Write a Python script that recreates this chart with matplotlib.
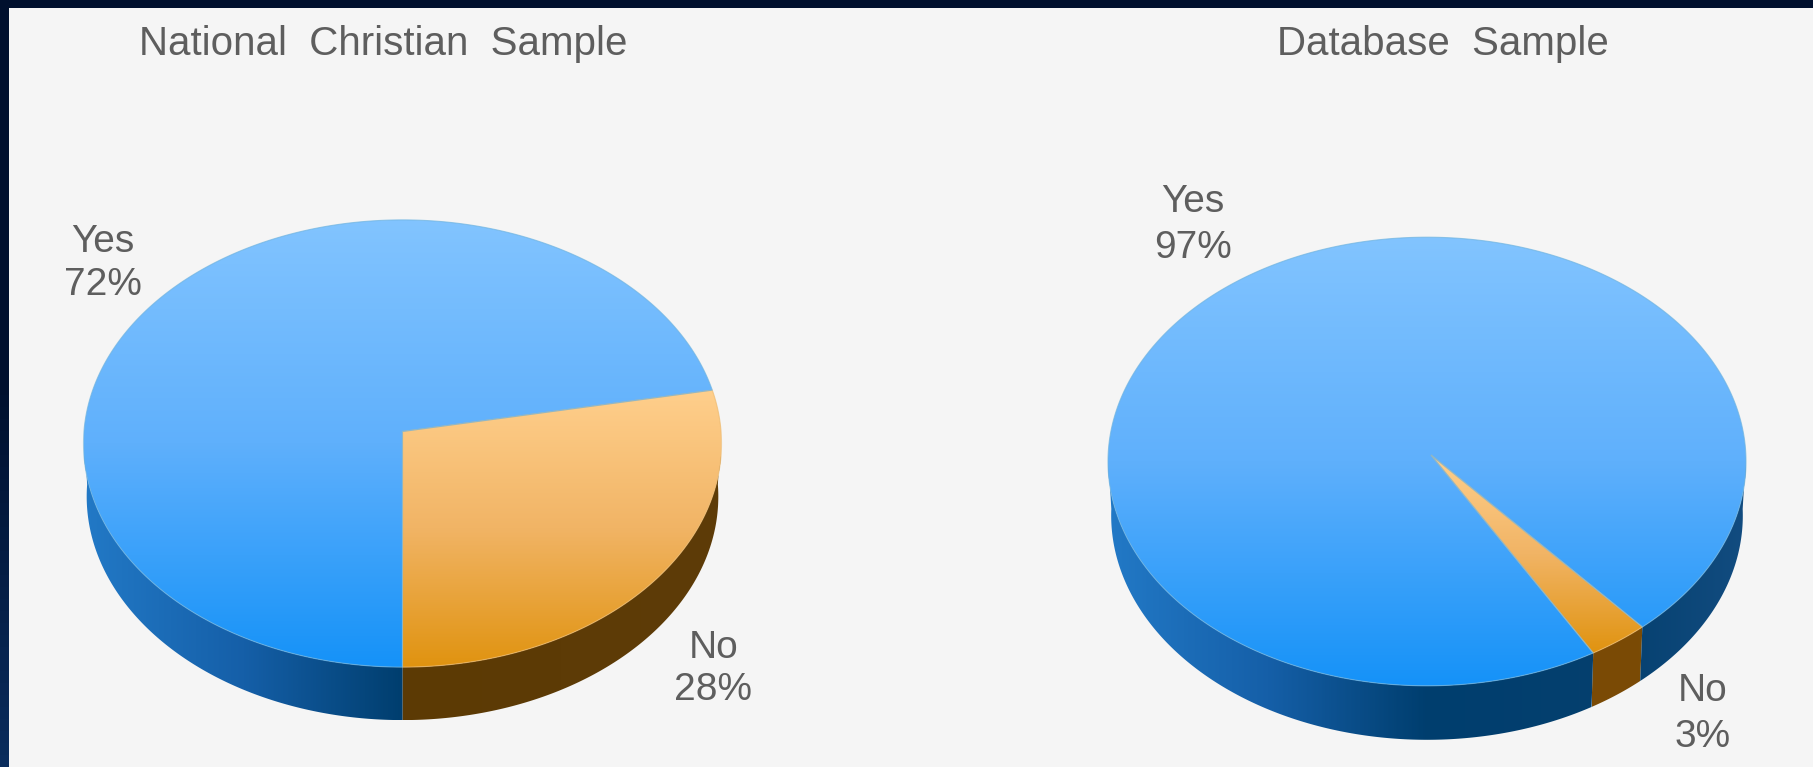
import numpy as np
import matplotlib
matplotlib.use("Agg")
import matplotlib.pyplot as plt
from matplotlib.colors import LinearSegmentedColormap
from matplotlib.patches import Polygon, Rectangle

plt.rcParams["font.family"] = ["Liberation Sans", "DejaVu Sans"]

# Survey results
titles = ["National  Christian  Sample", "Database  Sample"]
categories = ["Yes", "No"]
national_values = [72, 28]
database_values = [97, 3]

W, H = 1813, 767
INK = "#5e5e5e"

TOP_CMAPS = {
    "Yes": LinearSegmentedColormap.from_list("t_yes", ["#82c4ff", "#5fb0fc", "#1592f8"]),
    "No": LinearSegmentedColormap.from_list("t_no", ["#ffcf8c", "#f1b465", "#e09310"]),
}
RIM_YES = LinearSegmentedColormap.from_list(
    "s_yes", [(0, "#2279c6"), (0.25, "#155fa8"), (0.5, "#003e6e"), (0.8, "#05406f"), (1, "#124c80")])
RIM_NO_DARK = LinearSegmentedColormap.from_list("s_no_dark", ["#5a3800", "#5e3c08"])
RIM_NO_WARM = LinearSegmentedColormap.from_list("s_no_warm", ["#744605", "#7c4c06"])


def gradient(ax, verts, cmap, horizontal=False, span=None):
    """Fill a polygon with a vertical or horizontal colour ramp."""
    patch = Polygon(verts, closed=True, facecolor="none", edgecolor="none", transform=ax.transData)
    ax.add_patch(patch)
    x0, y0 = verts.min(axis=0)
    x1, y1 = verts.max(axis=0)
    if horizontal:
        lo, hi = span
        ramp = np.interp(np.linspace(x0, x1, 256), [lo, hi], [0, 1]).reshape(1, -1)
    else:
        ramp = np.linspace(0, 1, 256).reshape(-1, 1)
    im = ax.imshow(ramp, extent=(x0, x1, y1, y0), cmap=cmap, vmin=0, vmax=1,
                   aspect="auto", interpolation="bilinear", zorder=2)
    im.set_clip_path(patch)


def rim_points(geom, t0, t1):
    """Points of the tilted disc for true angles t0..t1, seen in perspective.

    The disc's centre projects to `apex`, above the middle of its outline, so
    near slices look a little larger than far ones.
    """
    cx, cy, a, b, apex_y = geom["cx"], geom["cy"], geom["a"], geom["b"], geom["apex"][1]
    h = cy - apex_y
    k = h / b
    scale_y = (b - h) * (1 + k)
    scale_x = a * np.sqrt(1 - k ** 2)
    t = np.radians(np.linspace(t0, t1, max(int(abs(t1 - t0) * 2), 2) + 1))
    u, v = np.cos(t), np.sin(t)
    w = 1 + k * v
    return np.column_stack([cx + scale_x * u / w, apex_y - scale_y * v / w])


def draw_pie(ax, values, names, start, geom, rim_no):
    """Slices run counter-clockwise from `start` degrees; the last name begins there."""
    total = sum(values)
    angle = start
    slices = []
    for name, value in zip(reversed(names), reversed(values)):
        sweep = 360 * value / total
        slices.append((name, angle, angle + sweep))
        angle += sweep

    cx, a, depth = geom["cx"], geom["a"], geom["depth"]
    rims = {"Yes": RIM_YES, "No": rim_no}

    # Rim: only the parts of each slice facing the viewer; its lower edge is slightly narrower
    for name, t0, t1 in slices:
        for shift in (0, -360, 360):
            lo, hi = max(t0 + shift, 180), min(t1 + shift, 360)
            if hi <= lo:
                continue
            upper = rim_points(geom, lo, hi)
            lower = upper[::-1].copy()
            lower[:, 0] = cx + (lower[:, 0] - cx) * 0.99
            lower[:, 1] += depth
            gradient(ax, np.vstack([upper, lower]), rims[name],
                     horizontal=True, span=(cx - a, cx + a))

    # Top face
    for name, t0, t1 in slices:
        verts = np.vstack([[geom["apex"]], rim_points(geom, t0, t1)])
        gradient(ax, verts, TOP_CMAPS[name])
        ax.add_patch(Polygon(verts, closed=True, facecolor="none",
                             edgecolor="#6fb4e0" if name == "Yes" else "#eebb70",
                             linewidth=0.8, alpha=0.7, zorder=3))


fig = plt.figure(figsize=(W / 100, H / 100), dpi=100, facecolor="#00102e")
ax = fig.add_axes([0, 0, 1, 1])
ax.set_axis_off()

# Dark frame, slightly glowing at the lower left, and the paper panel
frame = LinearSegmentedColormap.from_list("frame", ["#00102e", "#00102e", "#0a2c5c"])
ax.imshow(np.linspace(0, 1, 64).reshape(-1, 1), extent=(0, 9, H, 0), cmap=frame, aspect="auto", zorder=0)
ax.add_patch(Rectangle((9, 8), W - 9, H - 8, facecolor="#f5f5f5", edgecolor="none", zorder=1))

left_pie = dict(cx=402.5, cy=443.5, a=319, b=223.6, depth=53, apex=(402.5, 431.5))
right_pie = dict(cx=1427, cy=461.5, a=319, b=224.3, depth=54, apex=(1431, 455))
draw_pie(ax, national_values, categories, 270, left_pie, RIM_NO_DARK)
draw_pie(ax, database_values, categories, 300.55, right_pie, RIM_NO_WARM)

title_style = dict(color=INK, fontsize=29, ha="center", va="baseline", zorder=5)
ax.text(383, 55, titles[0], **title_style)
ax.text(1442.5, 55, titles[1], **title_style)

label_style = dict(color=INK, fontsize=28, ha="center", va="center", zorder=5)
ax.text(103, 263.5, f"{categories[0]}\n{national_values[0]}%", linespacing=1.25, **label_style)
ax.text(713.5, 669, f"{categories[1]}\n{national_values[1]}%", linespacing=1.25, **label_style)
ax.text(1192.5, 225, f"{categories[0]}\n{database_values[0]}%", linespacing=1.33, **label_style)
ax.text(1703, 714, f"{categories[1]}\n{database_values[1]}%", linespacing=1.33, **label_style)

ax.set_xlim(0, W)
ax.set_ylim(H, 0)
fig.savefig("out.png", dpi=100, facecolor=fig.get_facecolor())
